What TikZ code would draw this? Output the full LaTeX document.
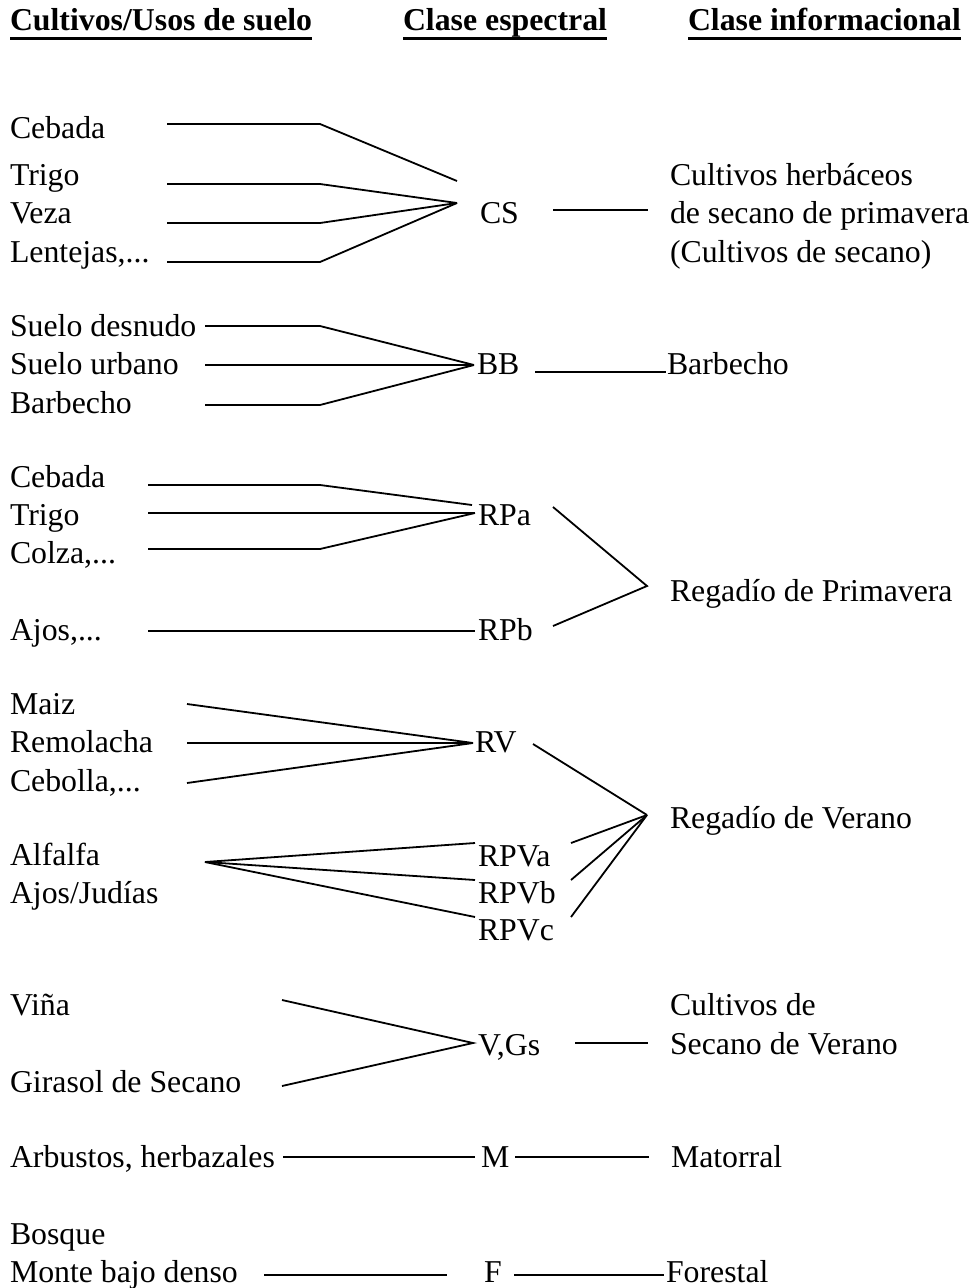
\documentclass[tikz,border=0pt]{standalone}
\usepackage{fontspec}
\setmainfont{Liberation Serif}
\begin{document}
\begin{tikzpicture}[x=1pt,y=-1pt,
  txt/.style={inner sep=0pt, outer sep=0pt, anchor=base west, font=\fontsize{31.8}{38}\selectfont},
  head/.style={txt, font=\fontsize{31.8}{38}\selectfont\bfseries},
  conn/.style={line width=1.8pt, line join=miter},
  uline/.style={line width=3pt}]
\useasboundingbox (0,0) rectangle (973,1288);

% headers
\node[head] (h1) at (10,30) {Cultivos/Usos de suelo};
\node[head] (h2) at (403,30) {Clase espectral};
\node[head] (h3) at (688,30) {Clase informacional};
\foreach \h in {h1,h2,h3}
  \draw[uline] ([yshift=-8.5pt]\h.base west) -- ([yshift=-8.5pt]\h.base east);

% ---------- group CS ----------
\node[txt] (g1a) at (10,138) {Cebada};
\node[txt] (g1b) at (10,185) {Trigo};
\node[txt] (g1c) at (10,223) {Veza};
\node[txt] (g1d) at (10,262) {Lentejas,...};
\node[txt] (cs) at (480,223) {CS};
\node[txt] (r1a) at (670,185) {Cultivos herbáceos};
\node[txt] (r1b) at (670,223) {de secano de primavera};
\node[txt] (r1c) at (670,262) {(Cultivos de secano)};
\coordinate (cshub) at (457,203);
\coordinate (cstop) at (457,181);
\coordinate (g1as) at (167,124); \coordinate (g1ab) at (320,124);
\coordinate (g1bs) at (167,184); \coordinate (g1bb) at (320,184);
\coordinate (g1cs) at (167,223); \coordinate (g1cb) at (320,223);
\coordinate (g1ds) at (167,262); \coordinate (g1db) at (320,262);
\draw[conn] (g1as) -- (g1ab) -- (cstop);
\draw[conn] (g1bs) -- (g1bb) -- (cshub);
\draw[conn] (g1cs) -- (g1cb) -- (cshub);
\draw[conn] (g1ds) -- (g1db) -- (cshub);
\coordinate (csr1) at (553,210); \coordinate (csr2) at (648,210);
\draw[conn] (csr1) -- (csr2);

% ---------- group BB ----------
\node[txt] (g2a) at (10,336) {Suelo desnudo};
\node[txt] (g2b) at (10,374) {Suelo urbano};
\node[txt] (g2c) at (10,413) {Barbecho};
\node[txt] (bb) at (477,374) {BB};
\node[txt] (r2) at (667,374) {Barbecho};
\coordinate (bbhub) at (474,365);
\coordinate (g2as) at (205,326); \coordinate (g2ab) at (320,326);
\coordinate (g2bs) at (205,365);
\coordinate (g2cs) at (205,405); \coordinate (g2cb) at (320,405);
\draw[conn] (g2as) -- (g2ab) -- (bbhub);
\draw[conn] (g2bs) -- (bbhub);
\draw[conn] (g2cs) -- (g2cb) -- (bbhub);
\coordinate (bbr1) at (535,372); \coordinate (bbr2) at (666,372);
\draw[conn] (bbr1) -- (bbr2);

% ---------- group RPa / RPb ----------
\node[txt] (g3a) at (10,487) {Cebada};
\node[txt] (g3b) at (10,525) {Trigo};
\node[txt] (g3c) at (10,563) {Colza,...};
\node[txt] (g3d) at (10,640) {Ajos,...};
\node[txt] (rpa) at (478,525) {RPa};
\node[txt] (rpb) at (478,640) {RPb};
\node[txt] (r3) at (670,601) {Regadío de Primavera};
\coordinate (rpahub) at (475,513);
\coordinate (rpatop) at (472,505);
\coordinate (g3as) at (148,485); \coordinate (g3ab) at (320,485);
\coordinate (g3bs) at (148,513);
\coordinate (g3cs) at (148,549); \coordinate (g3cb) at (320,549);
\coordinate (g3ds) at (148,631); \coordinate (rpbin) at (475,631);
\draw[conn] (g3as) -- (g3ab) -- (rpatop);
\draw[conn] (g3bs) -- (rpahub);
\draw[conn] (g3cs) -- (g3cb) -- (rpahub);
\draw[conn] (g3ds) -- (rpbin);
\coordinate (rpaout) at (553,507);
\coordinate (rpbout) at (553,626);
\coordinate (r3hub) at (647,586);
\draw[conn] (rpaout) -- (r3hub) -- (rpbout);

% ---------- group RV / RPV ----------
\node[txt] (g4a) at (10,714) {Maiz};
\node[txt] (g4b) at (10,752) {Remolacha};
\node[txt] (g4c) at (10,791) {Cebolla,...};
\node[txt] (g4d) at (10,865) {Alfalfa};
\node[txt] (g4e) at (10,903) {Ajos/Judías};
\node[txt] (rv) at (475,752) {RV};
\node[txt] (rpva) at (478,866) {RPVa};
\node[txt] (rpvb) at (478,903) {RPVb};
\node[txt] (rpvc) at (478,940) {RPVc};
\node[txt] (r4) at (670,828) {Regadío de Verano};
\coordinate (rvhub) at (473,743);
\coordinate (g4as) at (187,704);
\coordinate (g4bs) at (187,743);
\coordinate (g4cs) at (187,783);
\draw[conn] (g4as) -- (rvhub);
\draw[conn] (g4bs) -- (rvhub);
\draw[conn] (g4cs) -- (rvhub);
\coordinate (alfhub) at (205,862);
\coordinate (rpvain) at (475,843);
\coordinate (rpvbin) at (475,880);
\coordinate (rpvcin) at (475,917);
\draw[conn] (alfhub) -- (rpvain);
\draw[conn] (alfhub) -- (rpvbin);
\draw[conn] (alfhub) -- (rpvcin);
\coordinate (r4hub) at (647,815);
\coordinate (rvout) at (533,744);
\coordinate (rpvaout) at (571,843);
\coordinate (rpvbout) at (571,880);
\coordinate (rpvcout) at (571,917);
\draw[conn] (rvout) -- (r4hub);
\draw[conn] (rpvaout) -- (r4hub);
\draw[conn] (rpvbout) -- (r4hub);
\draw[conn] (rpvcout) -- (r4hub);

% ---------- group V,Gs ----------
\node[txt] (g5a) at (10,1015) {Viña};
\node[txt] (g5b) at (10,1092) {Girasol de Secano};
\node[txt] (vgs) at (478,1055) {V,Gs};
\node[txt] (r5a) at (670,1015) {Cultivos de};
\node[txt] (r5b) at (670,1054) {Secano de Verano};
\coordinate (vgshub) at (473,1043);
\coordinate (g5as) at (282,1000);
\coordinate (g5bs) at (282,1086);
\draw[conn] (g5as) -- (vgshub) -- (g5bs);
\coordinate (vgsr1) at (575,1043); \coordinate (vgsr2) at (648,1043);
\draw[conn] (vgsr1) -- (vgsr2);

% ---------- group M ----------
\node[txt] (g6) at (10,1167) {Arbustos, herbazales};
\node[txt] (m) at (481,1167) {M};
\node[txt] (r6) at (671,1167) {Matorral};
\coordinate (g6s) at (283,1157); \coordinate (min) at (475,1157);
\coordinate (mout) at (515,1157); \coordinate (r6in) at (649,1157);
\draw[conn] (g6s) -- (min);
\draw[conn] (mout) -- (r6in);

% ---------- group F ----------
\node[txt] (g7a) at (10,1244) {Bosque};
\node[txt] (g7b) at (10,1282) {Monte bajo denso};
\node[txt] (f) at (484,1282) {F};
\node[txt] (r7) at (666,1282) {Forestal};
\coordinate (g7s) at (264,1275); \coordinate (fin) at (447,1275);
\coordinate (fout) at (514,1275); \coordinate (r7in) at (664,1275);
\draw[conn] (g7s) -- (fin);
\draw[conn] (fout) -- (r7in);
\end{tikzpicture}
\end{document}
